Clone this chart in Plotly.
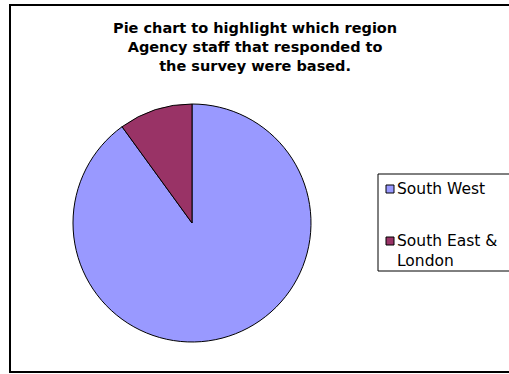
import plotly.graph_objects as go

# ---- data ----
regions = ["South West", "South East & London"]
percent = [90, 10]
colors = ["#9999FF", "#993366"]
title_lines = ["Pie chart to highlight which region",
               "Agency staff that responded to",
               "the survey were based."]

W, H = 509, 374
px = lambda x: x / W
py = lambda y: 1 - y / H

FONT = "DejaVu Sans"
LEG_SIZE = 15.5

fig = go.Figure()

cx, cy, r = 192, 223, 119
fig.add_trace(go.Pie(
    labels=regions, values=percent, sort=False,
    direction="clockwise", rotation=0,
    marker=dict(colors=colors, line=dict(color="black", width=1)),
    textinfo="none", showlegend=False,
    domain=dict(x=[px(cx - r), px(cx + r)], y=[py(cy + r), py(cy - r)]),
))

shapes = []
# outer chart border (right edge lies outside the picture)
shapes.append(dict(type="line", xref="paper", yref="paper",
                   x0=px(10), x1=px(10), y0=py(5), y1=py(372),
                   line=dict(color="black", width=2)))
shapes.append(dict(type="line", xref="paper", yref="paper",
                   x0=px(9), x1=px(530), y0=py(5), y1=py(5),
                   line=dict(color="black", width=2)))
shapes.append(dict(type="line", xref="paper", yref="paper",
                   x0=px(9), x1=px(530), y0=py(372), y1=py(372),
                   line=dict(color="black", width=2)))
# legend box
shapes.append(dict(type="rect", xref="paper", yref="paper",
                   x0=px(378), x1=px(540), y0=py(271), y1=py(174),
                   line=dict(color="black", width=1)))

annotations = [dict(
    text="<b>" + "<br>".join(title_lines) + "</b>",
    xref="paper", yref="paper", x=px(255), y=py(47),
    xanchor="center", yanchor="middle", showarrow=False,
    font=dict(family=FONT, size=14.5, color="black"), align="center")]

legend_y = [189, 241]
line_h = LEG_SIZE * 1.3
for name, col, yy in zip(regions, colors, legend_y):
    shapes.append(dict(type="rect", xref="paper", yref="paper",
                       x0=px(386), x1=px(394), y0=py(yy + 4), y1=py(yy - 4),
                       fillcolor=col, line=dict(color="black", width=1)))
    label = name.replace("& ", "&<br>")
    nlines = label.count("<br>") + 1
    annotations.append(dict(
        text=label, xref="paper", yref="paper",
        x=px(395), y=py(yy + (nlines - 1) * line_h / 2),
        xanchor="left", yanchor="middle",
        showarrow=False, align="left",
        font=dict(family=FONT, size=LEG_SIZE, color="black")))

fig.update_layout(
    width=W, height=H, margin=dict(l=0, r=0, t=0, b=0),
    paper_bgcolor="white", plot_bgcolor="white",
    shapes=shapes, annotations=annotations,
)

fig.write_html("out.html")
